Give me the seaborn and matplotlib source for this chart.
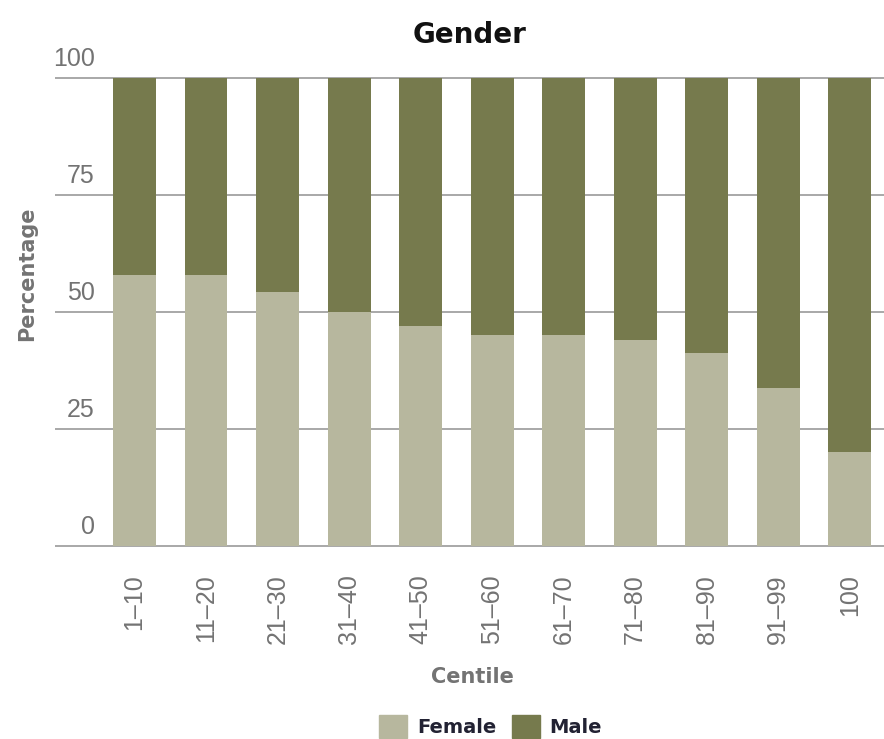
import pandas as pd
import matplotlib
matplotlib.use("Agg")
import matplotlib.pyplot as plt
import matplotlib.transforms as mtransforms
from matplotlib.patches import Patch
import seaborn as sns

# data
centiles = ["1–10", "11–20", "21–30", "31–40", "41–50", "51–60",
            "61–70", "71–80", "81–90", "91–99", "100"]
female = [57.8, 57.8, 54.3, 50.0, 47.0, 45.1, 45.1, 44.0, 41.2, 33.8, 20.2]
male = [42.2, 42.2, 45.7, 50.0, 53.0, 54.9, 54.9, 56.0, 58.8, 66.2, 79.8]
yticks = [0, 25, 50, 75, 100]

female_col = "#b7b79e"
male_col = "#767a4d"
grey = "#737373"
cond = ["Liberation Sans Narrow", "DejaVu Sans"]

df = pd.DataFrame({"centile": centiles, "female": female, "male": male})
df["total"] = df["female"] + df["male"]

sns.set_style("white")
plt.rcParams["font.family"] = ["Liberation Sans", "DejaVu Sans"]

fig = plt.figure(figsize=(8.84, 7.39), dpi=100)
ax = fig.add_axes([55 / 884, 1 - 548 / 739, 829 / 884, 472 / 739])

sns.barplot(data=df, x="centile", y="total", color=male_col, width=0.6,
            saturation=1, ax=ax, edgecolor="none")
sns.barplot(data=df, x="centile", y="female", color=female_col, width=0.6,
            saturation=1, ax=ax, edgecolor="none")

ax.set_xlim(-1.112, 10.48)
ax.set_ylim(-0.4, 100.4)
sns.despine(ax=ax, left=True, bottom=True)

ax.set_axisbelow(True)
ax.yaxis.grid(True, color="#9a9a9a", lw=1.2)
ax.xaxis.grid(False)

# y tick labels sit above the grid lines, inside the plot area
ax.set_yticks(yticks)
ax.set_yticklabels([])
ax.tick_params(axis="y", length=0)
off = mtransforms.ScaledTranslation(0.40, 0.19, fig.dpi_scale_trans)
for v in yticks:
    ax.text(0, v, str(v), transform=ax.get_yaxis_transform() + off,
            ha="right", va="center", fontsize=18, color=grey)

ax.tick_params(axis="x", length=0, pad=19, labelsize=18, labelcolor=grey)
for lab in ax.get_xticklabels():
    lab.set_rotation(90)
    lab.set_va("top")
    lab.set_ha("center")

ax.set_title("Gender", fontsize=20, fontweight="bold", family=cond,
             color="#111111", pad=24)
ax.set_xlabel("Centile", fontsize=15, fontweight="bold", family=cond,
              color=grey)
ax.xaxis.set_label_coords(0.503, -0.273)
ax.xaxis.label.set_va("center")
ax.set_ylabel("Percentage", fontsize=15, fontweight="bold", family=cond,
              color=grey)
ax.yaxis.set_label_coords(-0.034, 0.58)
ax.yaxis.label.set_va("center")

handles = [Patch(color=female_col, label="Female"), Patch(color=male_col, label="Male")]
fig.legend(handles=handles, loc="lower left", bbox_to_anchor=(379 / 884, 1 / 739),
           ncol=2, frameon=False, borderpad=0, borderaxespad=0,
           handlelength=1.45, handleheight=1.45,
           handletextpad=0.5, columnspacing=0.8,
           prop={"family": cond, "weight": "bold", "size": 14},
           labelcolor="#222233")

fig.savefig("out.png", dpi=100)
